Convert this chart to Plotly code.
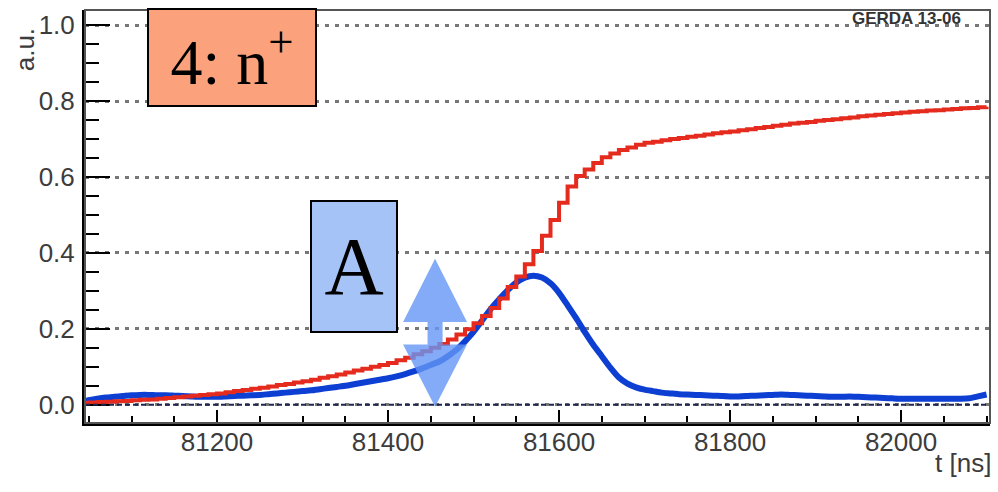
import plotly.graph_objects as go

# Sampling grid of the trace (10 ns bins)
t_ns = list(range(81040, 82101, 10))

# Charge pulse (a.u.), one value per 10 ns bin
charge = [
    0.005, 0.006, 0.007, 0.008, 0.009, 0.010, 0.012, 0.013, 0.014, 0.016,
    0.018, 0.020, 0.022, 0.024, 0.026, 0.028, 0.030, 0.033, 0.036, 0.039,
    0.042, 0.045, 0.048, 0.052, 0.055, 0.059, 0.062, 0.066, 0.071, 0.075,
    0.080, 0.085, 0.090, 0.095, 0.100, 0.105, 0.110, 0.117, 0.124, 0.133,
    0.141, 0.150, 0.160, 0.172, 0.185, 0.199, 0.215, 0.234, 0.255, 0.280,
    0.310, 0.338, 0.370, 0.405, 0.445, 0.487, 0.532, 0.575, 0.603, 0.620,
    0.637, 0.652, 0.662, 0.671, 0.678, 0.685, 0.690, 0.693, 0.697, 0.700,
    0.703, 0.706, 0.709, 0.712, 0.715, 0.718, 0.720, 0.723, 0.726, 0.729,
    0.732, 0.735, 0.738, 0.741, 0.743, 0.745, 0.748, 0.750, 0.752, 0.755,
    0.757, 0.760, 0.762, 0.764, 0.766, 0.768, 0.770, 0.772, 0.773, 0.775,
    0.776, 0.778, 0.779, 0.781, 0.782, 0.784, 0.785,
]

# Current pulse (a.u.), same grid
current = [
    0.005, 0.012, 0.016, 0.019, 0.021, 0.023, 0.025, 0.026, 0.026, 0.025,
    0.025, 0.024, 0.023, 0.022, 0.021, 0.021, 0.021, 0.022, 0.023, 0.024,
    0.025, 0.026, 0.028, 0.030, 0.032, 0.034, 0.036, 0.038, 0.041, 0.044,
    0.047, 0.050, 0.054, 0.058, 0.062, 0.066, 0.070, 0.075, 0.081, 0.088,
    0.096, 0.105, 0.114, 0.128, 0.145, 0.167, 0.192, 0.222, 0.252, 0.278,
    0.302, 0.322, 0.335, 0.340, 0.335, 0.320, 0.295, 0.262, 0.228, 0.192,
    0.158, 0.128, 0.098, 0.072, 0.056, 0.046, 0.040, 0.036, 0.032, 0.030,
    0.028, 0.027, 0.026, 0.025, 0.024, 0.023, 0.022, 0.022, 0.023, 0.024,
    0.025, 0.026, 0.027, 0.026, 0.025, 0.024, 0.023, 0.022, 0.021, 0.021,
    0.022, 0.021, 0.020, 0.019, 0.018, 0.017, 0.016, 0.016, 0.016, 0.016,
    0.016, 0.016, 0.016, 0.016, 0.017, 0.022, 0.027,
]

x_tick_vals = [81200, 81400, 81600, 81800, 82000]
x_tick_text = ["81200", "81400", "81600", "81800", "82000"]
y_tick_vals = [0.0, 0.2, 0.4, 0.6, 0.8, 1.0]
y_tick_text = ["0.0", "0.2", "0.4", "0.6", "0.8", "1.0"]

# Amplitude marker: double-headed arrow (ns, a.u.)
arrow_x = 81455
arrow_half_head = 37.4
arrow_half_shaft = 8.8
arrow_top, arrow_top_base = 0.385, 0.218
arrow_low_base, arrow_bottom = 0.159, -0.005

TICK_FONT = dict(family="Liberation Sans, Arial, sans-serif", size=26, color="#3c3c3c")

fig = go.Figure()

fig.add_trace(go.Scatter(
    x=t_ns, y=current, mode="lines",
    line=dict(color="#0d3fd2", width=6, shape="spline", smoothing=0.6),
    showlegend=False, hoverinfo="skip",
))
fig.add_trace(go.Scatter(
    x=t_ns, y=charge, mode="lines",
    line=dict(color="#e52a1e", width=4, shape="hv"),
    showlegend=False, hoverinfo="skip",
))

ax = arrow_x
path = (
    f"M {ax},{arrow_top} "
    f"L {ax + arrow_half_head},{arrow_top_base} "
    f"L {ax + arrow_half_shaft},{arrow_top_base} "
    f"L {ax + arrow_half_shaft},{arrow_low_base} "
    f"L {ax + arrow_half_head},{arrow_low_base} "
    f"L {ax},{arrow_bottom} "
    f"L {ax - arrow_half_head},{arrow_low_base} "
    f"L {ax - arrow_half_shaft},{arrow_low_base} "
    f"L {ax - arrow_half_shaft},{arrow_top_base} "
    f"L {ax - arrow_half_head},{arrow_top_base} Z"
)

shapes = [
    # dashed baseline at zero
    dict(type="line", xref="paper", x0=0, x1=1, yref="y", y0=0, y1=0,
         line=dict(color="#1c2550", width=2, dash="5px,3px"), layer="above"),
    # frame
    dict(type="rect", xref="paper", yref="paper", x0=0, x1=1, y0=0, y1=1,
         line=dict(color="#555555", width=2), layer="above"),
    # amplitude arrow
    dict(type="path", xref="x", yref="y", path=path,
         fillcolor="rgba(100,150,245,0.8)", line=dict(width=0), layer="above"),
]

annotations = [
    dict(text="4: n<sup>+</sup>", xref="paper", yref="paper", x=0.1624, y=0.8838,
         xanchor="center", yanchor="middle", showarrow=False,
         width=166, height=95, bgcolor="#fba27c", bordercolor="#000000",
         borderwidth=2, borderpad=0,
         font=dict(family="Liberation Serif, Times New Roman, serif", size=64, color="#000000")),
    dict(text="A", xref="paper", yref="paper", x=0.2972, y=0.380,
         xanchor="center", yanchor="middle", showarrow=False,
         width=84, height=129, bgcolor="#a6c3f7", bordercolor="#000000",
         borderwidth=2, borderpad=0,
         font=dict(family="Liberation Serif, Times New Roman, serif", size=82, color="#000000")),
    dict(text="a.u.", xref="paper", yref="paper", x=-0.066, y=0.96,
         xanchor="center", yanchor="top", textangle=-90, showarrow=False,
         font=TICK_FONT),
    dict(text="t [ns]", xref="paper", yref="paper", x=1.003, y=-0.098,
         xanchor="right", yanchor="middle", showarrow=False, font=TICK_FONT),
    dict(text="<b>GERDA 13-06</b>", xref="paper", yref="paper", x=0.97, y=0.98,
         xanchor="right", yanchor="middle", showarrow=False,
         font=dict(family="Liberation Sans, Arial, sans-serif", size=17, color="#333333")),
]

fig.update_layout(
    width=998, height=492, autosize=False,
    margin=dict(l=85, r=8, t=10, b=69, pad=0),
    paper_bgcolor="white", plot_bgcolor="white",
    shapes=shapes, annotations=annotations,
    xaxis=dict(
        range=[81045.6, 82104], tickvals=x_tick_vals, ticktext=x_tick_text,
        ticks="inside", ticklen=13, tickwidth=2, tickcolor="#000000",
        minor=dict(dtick=50, tick0=81200, ticks="inside", ticklen=7, tickwidth=2,
                   tickcolor="#000000", showgrid=False),
        showgrid=False, zeroline=False,
        showline=True, linecolor="#000000", linewidth=3, mirror=False,
        tickfont=TICK_FONT, ticklabelstandoff=-6,
    ),
    yaxis=dict(
        range=[-0.048, 1.04], tickvals=y_tick_vals, ticktext=y_tick_text,
        ticks="inside", ticklen=25, tickwidth=2, tickcolor="#000000",
        minor=dict(dtick=0.05, tick0=0, ticks="inside", ticklen=14, tickwidth=2,
                   tickcolor="#000000", showgrid=False),
        showgrid=True, gridcolor="#777777", gridwidth=2.5, griddash="4px,6px",
        zeroline=False,
        showline=True, linecolor="#000000", linewidth=3, mirror=False,
        tickfont=TICK_FONT, ticklabelstandoff=2,
    ),
)

fig.write_html("out.html")
